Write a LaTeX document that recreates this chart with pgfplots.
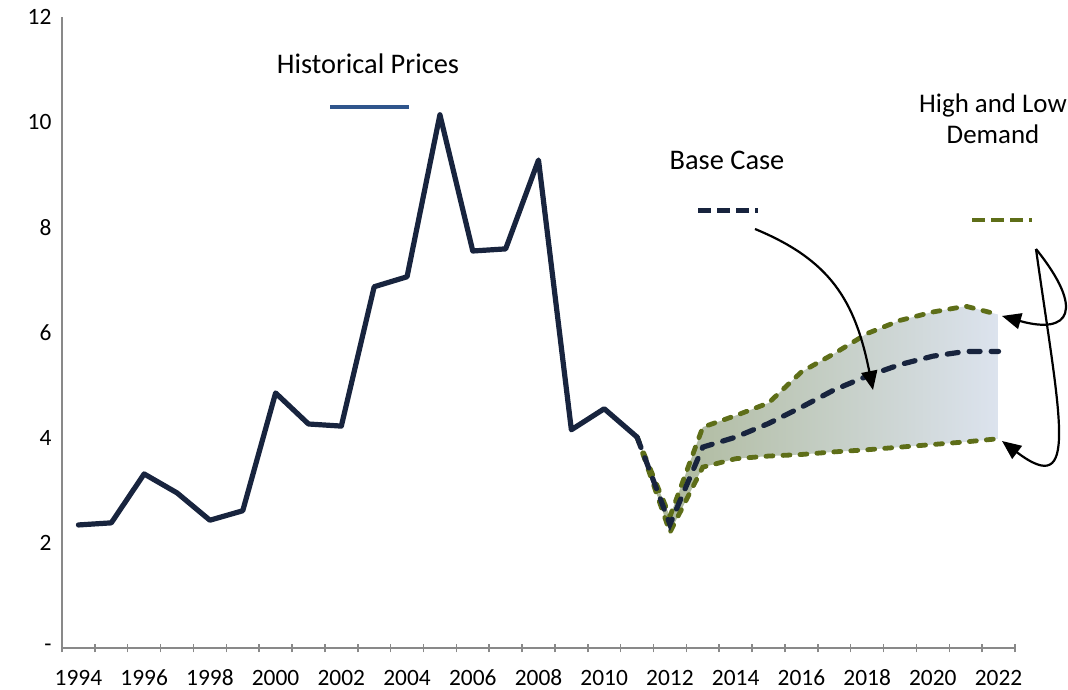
\documentclass[border=0pt]{standalone}
\usepackage{fontspec}
\setmainfont{Carlito}
\usepackage{pgfplots}
\pgfplotsset{compat=1.18}
\usetikzlibrary{arrows.meta}
\definecolor{navy}{RGB}{24,36,62}
\definecolor{olive}{RGB}{94,110,24}
\definecolor{histblue}{RGB}{47,85,140}
\definecolor{axgray}{RGB}{137,137,137}
\definecolor{fillL}{RGB}{170,182,150}
\definecolor{fillR}{RGB}{220,227,238}
\begin{document}
\begin{tikzpicture}
\path[use as bounding box] (0,0) rectangle (1068bp,690bp);
\begin{axis}[
  at={(62bp,42bp)}, anchor=south west,
  scale only axis, width=953bp, height=631bp,
  xmin=1993.5, xmax=2022.5, ymin=0, ymax=12,
  axis x line*=bottom, axis y line*=left,
  axis line style={axgray, line width=2bp, -},
  clip=false,
  xtick={1994,1996,1998,2000,2002,2004,2006,2008,2010,2012,2014,2016,2018,2020,2022},
  xticklabels={1994,1996,1998,2000,2002,2004,2006,2008,2010,2012,2014,2016,2018,2020,2022},
  minor xtick={1993.5,1994.5,1995.5,1996.5,1997.5,1998.5,1999.5,2000.5,2001.5,2002.5,2003.5,2004.5,2005.5,2006.5,2007.5,2008.5,2009.5,2010.5,2011.5,2012.5,2013.5,2014.5,2015.5,2016.5,2017.5,2018.5,2019.5,2020.5,2021.5,2022.5},
  major tick length=0pt, minor tick length=9bp, tick align=center,
  minor tick style={axgray, line width=1.5bp},
  ytick={0,2,4,6,8,10,12},
  yticklabels={-\hspace{9bp},2,4,6,8,10,12},
  tick label style={font=\fontsize{23.5}{27}\selectfont},
  xticklabel style={anchor=base, inner ysep=0pt, yshift=-37.5bp},
  yticklabel style={xshift=-7bp},
]
% shaded range between high and low demand (high forward, low backward)
\addplot[draw=none, left color=fillL, right color=fillR] coordinates {
(2011,4.01) (2012,2.50) (2013,4.20) (2014,4.42) (2015,4.66) (2016,5.25) (2017,5.60) (2018,5.98) (2019,6.23) (2020,6.39) (2021,6.50) (2022,6.34)
(2022,3.98) (2021,3.92) (2020,3.87) (2019,3.82) (2018,3.77) (2017,3.73) (2016,3.68) (2015,3.65) (2014,3.60) (2013,3.44) (2012,2.20) (2011,4.01)} -- cycle;
% high demand
\addplot[olive, line width=4.8bp, line cap=round, dash pattern=on 7bp off 10bp] coordinates {
(2011,4.01) (2012,2.50) (2013,4.20) (2014,4.42) (2015,4.66) (2016,5.25) (2017,5.60) (2018,5.98) (2019,6.23) (2020,6.39) (2021,6.50) (2022,6.34)};
% low demand
\addplot[olive, line width=4.8bp, line cap=round, dash pattern=on 7bp off 10bp] coordinates {
(2011,4.01) (2012,2.20) (2013,3.44) (2014,3.60) (2015,3.65) (2016,3.68) (2017,3.73) (2018,3.77) (2019,3.82) (2020,3.87) (2021,3.92) (2022,3.98)};
% base case
\addplot[navy, line width=5.2bp, line cap=round, dash pattern=on 11bp off 11bp] coordinates {
(2011,4.01) (2012,2.35) (2013,3.82) (2014,4.01) (2015,4.27) (2016,4.58) (2017,4.91) (2018,5.17) (2019,5.39) (2020,5.55) (2021,5.64) (2022,5.64)};
% historical
\addplot[navy, line width=5.2bp, line join=round, line cap=round] coordinates {
(1994,2.34) (1995,2.38) (1996,3.31) (1997,2.95) (1998,2.43) (1999,2.61) (2000,4.85) (2001,4.26) (2002,4.22) (2003,6.87) (2004,7.06) (2005,10.14) (2006,7.55) (2007,7.59) (2008,9.28) (2009,4.15) (2010,4.55) (2011,4.01)};
\end{axis}
\begin{scope}[x=1bp, y=-1bp, yshift=690bp]
\node[anchor=base, font=\fontsize{28.5}{34}\selectfont, inner sep=0pt] at (368,74) {Historical Prices};
\node[anchor=base, font=\fontsize{28.5}{34}\selectfont, inner sep=0pt] at (727,170) {Base Case};
\node[anchor=base, font=\fontsize{27}{32}\selectfont, inner sep=0pt] at (993,113) {High and Low};
\node[anchor=base, font=\fontsize{27}{32}\selectfont, inner sep=0pt] at (993,144) {Demand};
\draw[histblue, line width=4.5bp] (330,107) -- (409,107);
\draw[navy, line width=5bp, dash pattern=on 13bp off 6bp] (698,211) -- (758,211);
\draw[olive, line width=4.8bp, dash pattern=on 13bp off 6bp] (972,220) -- (1032,220);
\draw[black, line width=2.2bp, -{Triangle[length=19bp,width=16bp]}] (755,229) .. controls (830,260) and (855,300) .. (873,390);
\draw[black, line width=2.2bp, -{Triangle[length=19bp,width=16bp]}] (1036,249) .. controls (1085,310) and (1070,335) .. (1002,316);
\draw[black, line width=2.2bp, -{Triangle[length=19bp,width=16bp]}] (1036,249) .. controls (1060,420) and (1080,500) .. (1002,441);
\end{scope}
\end{tikzpicture}
\end{document}
